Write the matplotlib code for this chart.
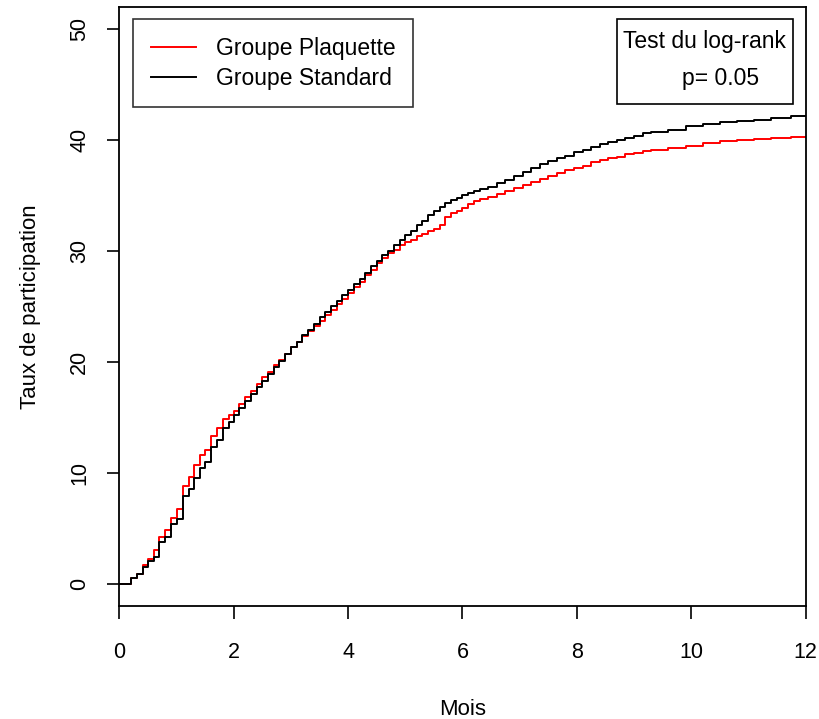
import matplotlib
matplotlib.use("Agg")
import matplotlib.pyplot as plt
from matplotlib.patches import Rectangle

plt.rcParams["font.family"] = ["Liberation Sans", "DejaVu Sans"]

# months at which the cumulative participation curves step
mois = [0.00, 0.21, 0.31, 0.41, 0.51, 0.60, 0.69, 0.80, 0.91, 1.01,
        1.11, 1.21, 1.31, 1.41, 1.50, 1.61, 1.71, 1.81, 1.91, 2.00,
        2.10, 2.20, 2.30, 2.40, 2.50, 2.60, 2.70, 2.80, 2.90, 3.00,
        3.10, 3.20, 3.30, 3.40, 3.50, 3.60, 3.70, 3.80, 3.90, 4.00,
        4.10, 4.20, 4.30, 4.40, 4.50, 4.60, 4.70, 4.80, 4.90, 5.00,
        5.10, 5.20, 5.30, 5.40, 5.50, 5.60, 5.70, 5.80, 5.90, 6.00,
        6.10, 6.20, 6.30, 6.45, 6.60, 6.75, 6.90, 7.05, 7.20, 7.35,
        7.50, 7.65, 7.80, 7.95, 8.10, 8.25, 8.40, 8.55, 8.70, 8.85,
        9.00, 9.15, 9.30, 9.60, 9.90, 10.20, 10.50, 10.80, 11.10, 11.40,
        11.75, 12.00]

plaquette = [0.0, 0.5, 0.9, 1.7, 2.2, 3.0, 4.2, 4.8, 5.9, 6.7,
             8.75, 9.6, 10.65, 11.55, 12.05, 13.3, 14.0, 14.8, 15.2, 15.6,
             16.2, 16.8, 17.4, 18.0, 18.6, 19.1, 19.7, 20.2, 20.7, 21.3,
             21.8, 22.3, 22.8, 23.2, 23.7, 24.2, 24.7, 25.2, 25.7, 26.2,
             26.7, 27.2, 27.8, 28.3, 28.9, 29.4, 29.8, 30.1, 30.5, 30.8,
             31.0, 31.3, 31.5, 31.8, 32.0, 32.3, 33.1, 33.4, 33.6, 33.9,
             34.2, 34.5, 34.7, 34.9, 35.1, 35.4, 35.7, 35.9, 36.2, 36.5,
             36.8, 37.0, 37.3, 37.5, 37.7, 38.0, 38.2, 38.4, 38.5, 38.7,
             38.8, 39.0, 39.1, 39.3, 39.5, 39.7, 39.9, 40.0, 40.1, 40.2,
             40.3, 40.3]

standard = [0.0, 0.5, 0.9, 1.5, 2.0, 2.4, 3.7, 4.2, 5.4, 5.8,
            7.9, 8.5, 9.5, 10.4, 11.0, 12.3, 12.9, 14.0, 14.6, 15.2,
            15.8, 16.5, 17.1, 17.7, 18.3, 18.9, 19.5, 20.1, 20.7, 21.3,
            21.8, 22.4, 22.9, 23.4, 24.0, 24.5, 25.0, 25.5, 26.0, 26.5,
            27.0, 27.5, 28.0, 28.6, 29.1, 29.6, 30.0, 30.5, 31.0, 31.4,
            31.8, 32.3, 32.7, 33.2, 33.6, 34.0, 34.3, 34.6, 34.8, 35.0,
            35.2, 35.4, 35.6, 35.8, 36.1, 36.4, 36.8, 37.1, 37.5, 37.8,
            38.1, 38.4, 38.6, 38.9, 39.1, 39.4, 39.6, 39.8, 40.0, 40.2,
            40.4, 40.6, 40.7, 40.9, 41.3, 41.4, 41.6, 41.7, 41.8, 41.95,
            42.15, 42.15]

groupes = ["Groupe Plaquette", "Groupe Standard"]
couleurs = ["#ff0000", "#000000"]
xticks = [0, 2, 4, 6, 8, 10, 12]
yticks = [0, 10, 20, 30, 40, 50]
test_titre = "Test du log-rank"
test_p = "p= 0.05"

fig = plt.figure(figsize=(8.19, 7.19), dpi=100)
ax = fig.add_axes([0.1457, 0.1576, 0.838, 0.8327])

for vals, lab, col in zip([plaquette, standard], groupes, couleurs):
    ax.step(mois, vals, where="post", color=col, lw=1.4, label=lab)

ax.set_xlim(0, 12)
ax.set_ylim(-2, 52)
ax.set_xticks(xticks)
ax.set_yticks(yticks)
ax.tick_params(direction="out", length=9, width=1.2, labelsize=15.5, colors="black")
ax.tick_params(axis="x", pad=17)
ax.tick_params(axis="y", pad=12)
for lbl in ax.get_yticklabels():
    lbl.set_rotation(90)
    lbl.set_va("center")
for s in ax.spines.values():
    s.set_linewidth(1.3)
    s.set_color("black")

ax.set_xlabel("Mois", fontsize=16, labelpad=26)
ax.set_ylabel("Taux de participation", fontsize=16, labelpad=20)

leg1 = ax.legend(loc="upper left", bbox_to_anchor=(0.0195, 0.9795),
                 fontsize=16.5, frameon=True, fancybox=False, edgecolor="black",
                 handlelength=1.97, handletextpad=0.87, borderpad=0.78,
                 labelspacing=0.28, borderaxespad=0)
leg1.get_frame().set_linewidth(1.2)

# log-rank box, top right
ax.add_patch(Rectangle((0.7255, 0.8375), 0.2556, 0.142, transform=ax.transAxes,
                       fill=False, edgecolor="black", lw=1.2))
ax.text(0.7338, 0.942, test_titre, transform=ax.transAxes, fontsize=16.5,
        ha="left", va="center")
ax.text(0.8193, 0.8809, test_p, transform=ax.transAxes, fontsize=16.5,
        ha="left", va="center")

fig.savefig("out.png", dpi=100)
